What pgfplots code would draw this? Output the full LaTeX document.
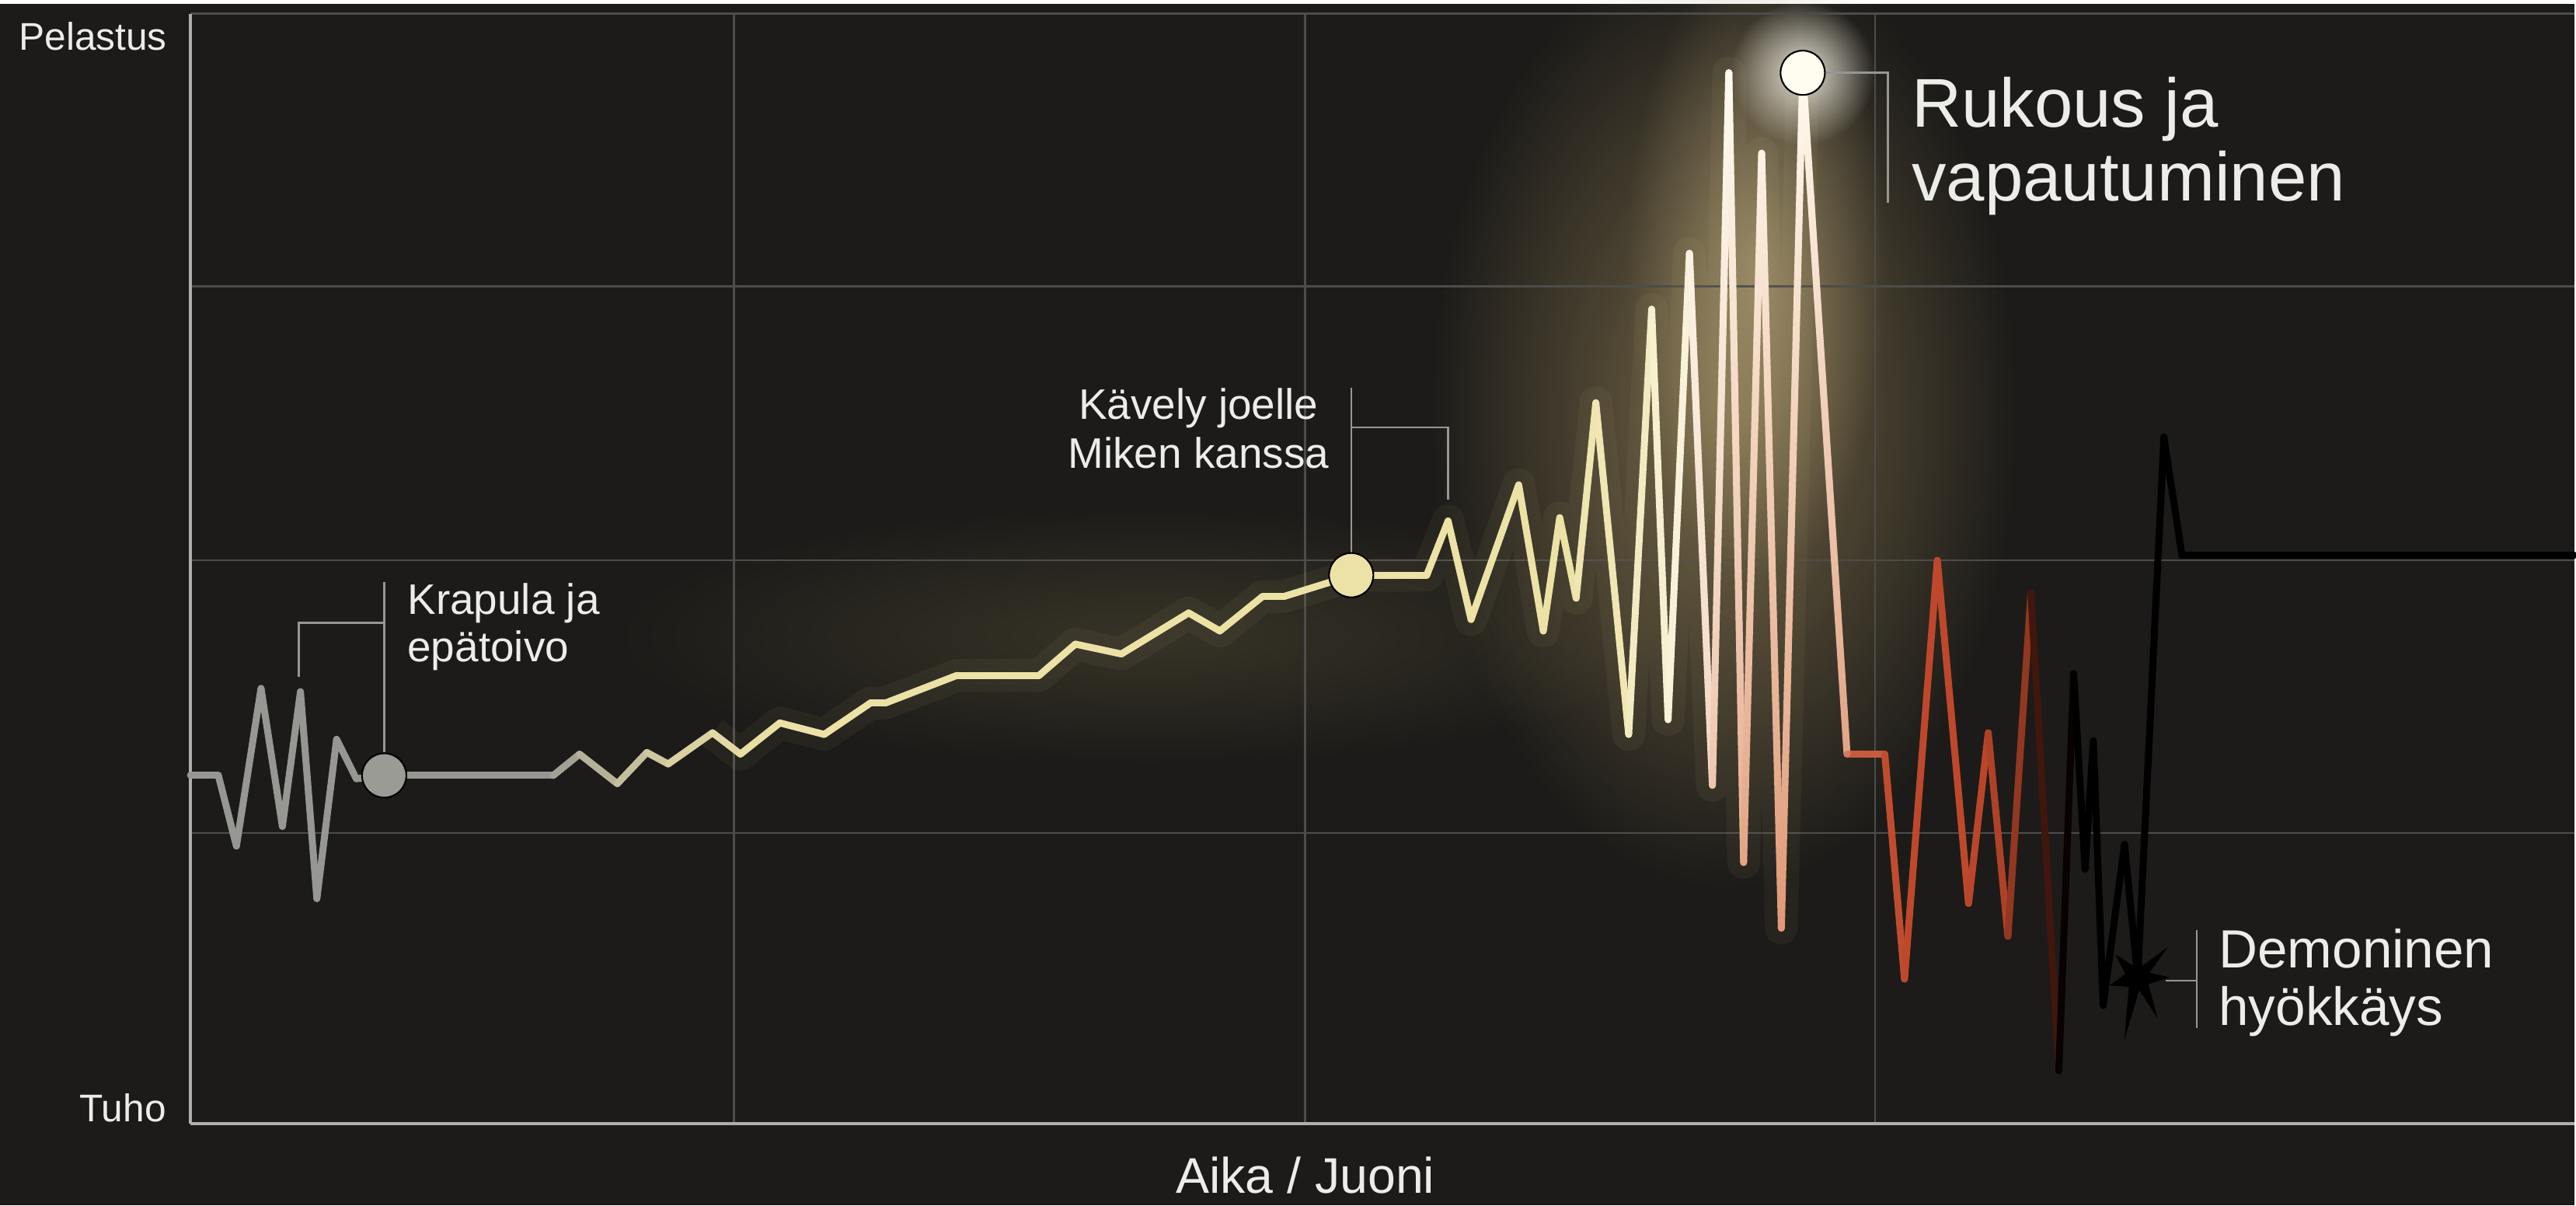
\documentclass[border=0pt]{standalone}
\usepackage{fontspec}
\setmainfont{Liberation Sans}
\usepackage{pgfplots}
\pgfplotsset{compat=1.18}
\usepackage{pgfplotstable}
\usetikzlibrary{fadings}

\definecolor{bg}{RGB}{28,27,25}
\definecolor{gridc}{RGB}{76,76,74}
\definecolor{axisc}{RGB}{175,175,172}
\definecolor{leader}{RGB}{150,150,147}
\definecolor{txt}{RGB}{236,236,232}
\definecolor{dotgray}{RGB}{155,155,150}
\definecolor{dotyellow}{RGB}{236,226,166}
\definecolor{dotwhite}{RGB}{255,252,240}
\definecolor{glowA}{RGB}{150,130,88}
\definecolor{glowB}{RGB}{215,195,145}
\definecolor{glowC}{RGB}{105,96,64}
\definecolor{glowline}{RGB}{235,220,155}

\tikzfading[name=softglow, inner color=transparent!0, outer color=transparent!100]

% x: time (px-like units), y: level, c: colour index along the story
\pgfplotstableread{
x y c
116 212 0
133 212 0
144 169 0
159 265 0
172 181 0
183 263 0
193 137 0
205 234 0
217 210 0
234 212 0
337 212 0
353 225 0.3
376 207 0.45
394 226 0.6
407 219 0.7
434 238 0.85
451 225 0.92
475 244 1
502 237 1
530 256 1
539 256 1
583 273 1
633 273 1
655 292 1
683 286 1
724 311 1
743 300 1
769 321 1
782 321 1
811 330 1
823 334 1
869 334 1
882 367 1
896 307 1
925 389 1
940 300 1
950 369 1
960 320 1
972 439 1.3
992 237 1.1
1006 496 1.7
1016 246 1.5
1029 530 2
1043 206 2.8
1053 640 2.4
1062 159 3.2
1073 591 2.6
1085 119 3.3
1098 640 2.6
1125 225 3.6
1148 225 3.9
1160 88 4
1180 343 4
1199 134 4
1211 238 4.1
1223 114 4.2
1237 323 4.6
1254 32 5.8
1263 274 6
1270 155 6
1275 233 6
1281 72 6
1294 170 6
1302 89 6
1318 418 6
1329 346 6
1568 346 6
}\storyline

\pgfdeclareplotmark{burst}{%
  \pgfpathmoveto{\pgfpointpolar{0}{6\pgfplotmarksize}}%
  \pgfpathlineto{\pgfpointpolar{22}{2.4\pgfplotmarksize}}%
  \pgfpathlineto{\pgfpointpolar{45}{8\pgfplotmarksize}}%
  \pgfpathlineto{\pgfpointpolar{67}{2.4\pgfplotmarksize}}%
  \pgfpathlineto{\pgfpointpolar{90}{6.5\pgfplotmarksize}}%
  \pgfpathlineto{\pgfpointpolar{112}{2.4\pgfplotmarksize}}%
  \pgfpathlineto{\pgfpointpolar{134}{6\pgfplotmarksize}}%
  \pgfpathlineto{\pgfpointpolar{165}{2.4\pgfplotmarksize}}%
  \pgfpathlineto{\pgfpointpolar{196}{5.5\pgfplotmarksize}}%
  \pgfpathlineto{\pgfpointpolar{227}{2.4\pgfplotmarksize}}%
  \pgfpathlineto{\pgfpointpolar{258}{12\pgfplotmarksize}}%
  \pgfpathlineto{\pgfpointpolar{277}{2.4\pgfplotmarksize}}%
  \pgfpathlineto{\pgfpointpolar{296}{8.5\pgfplotmarksize}}%
  \pgfpathlineto{\pgfpointpolar{328}{2.4\pgfplotmarksize}}%
  \pgfpathclose
  \pgfusepathqfill
}

\begin{document}
\begin{tikzpicture}
% page background and soft glows, in picture pixel units (y downwards)
\begin{scope}[xshift=-46.4pt, yshift=272.8pt, x=0.4pt, y=-0.4pt]
  \path[use as bounding box, fill=bg] (0,0) rectangle (1568,732);
  \fill[glowC, path fading=softglow, fill opacity=0.35] (700,385) ellipse (330 and 80);
  \fill[glowA, path fading=softglow, fill opacity=0.7] (1050,250) ellipse (180 and 290);
  \fill[glowB, path fading=softglow, fill opacity=0.5] (1070,160) ellipse (80 and 190);
  \fill[dotwhite, path fading=softglow, fill opacity=0.85] (1098,42) ellipse (44 and 44);
\end{scope}

\begin{axis}[
  at={(0,0)}, anchor=south west,
  scale only axis, width=580.8pt, height=270.4pt,
  xmin=116, xmax=1568, ymin=0, ymax=676,
  clip=false,
  axis x line*=bottom, axis y line*=left,
  axis line style={draw=axisc, line width=0.8pt},
  xtick={447,795,1142}, ytick={177,343,510,676},
  xticklabels={}, yticklabels={},
  tick style={draw=none},
  grid=major,
  grid style={draw=gridc, line width=0.5pt},
  colormap={story}{rgb255(0cm)=(150,150,146) rgb255(1cm)=(236,226,166)
    rgb255(2cm)=(252,248,236) rgb255(3cm)=(222,148,112) rgb255(4cm)=(190,72,44)
    rgb255(5cm)=(80,28,16) rgb255(6cm)=(0,0,0)},
  point meta min=0, point meta max=6,
]
% faint halo along the bright part
\addplot[draw=glowline, line width=8pt, opacity=0.05, line join=round,
  restrict x to domain=420:1110] table[x=x, y=y] {\storyline};
% the story line
\addplot[mesh, point meta=\thisrow{c}, line width=1.7pt, line cap=round]
  table[x=x, y=y] {\storyline};
% white tops of the climax peaks
\addplot[draw=dotwhite, line width=1.7pt, line join=round, line cap=round,
  path fading=south, restrict x to domain=1025:1130] table[x=x, y=y] {\storyline};

% events
\addplot[only marks, mark=*, mark size=5.4pt, mark options={fill=dotgray, draw=none}]
  coordinates {(234,212)};
\addplot[only marks, mark=*, mark size=5.4pt, mark options={fill=dotyellow, draw=none}]
  coordinates {(823,334)};
\addplot[only marks, mark=*, mark size=5.4pt, mark options={fill=dotwhite, draw=none}]
  coordinates {(1098,640)};
\addplot[only marks, mark=burst, mark size=1.3pt, mark options={fill=black, draw=none}]
  coordinates {(1302,89)};

% leaders
\draw[leader, line width=0.5pt] (axis cs:234,330) -- (axis cs:234,226);
\draw[leader, line width=0.5pt] (axis cs:182,272) -- (axis cs:182,305) -- (axis cs:234,305);
\draw[leader, line width=0.5pt] (axis cs:823,448) -- (axis cs:823,347);
\draw[leader, line width=0.5pt] (axis cs:823,424) -- (axis cs:882,424) -- (axis cs:882,380);
\draw[leader, line width=0.5pt] (axis cs:1112,640) -- (axis cs:1150,640) -- (axis cs:1150,561);
\draw[leader, line width=0.5pt] (axis cs:1319,87) -- (axis cs:1338,87);
\draw[leader, line width=0.5pt] (axis cs:1338,118) -- (axis cs:1338,58);

% texts
\begin{scope}[every node/.style={inner sep=0pt, text=txt}]
\node[anchor=base west, font=\fontsize{9.4}{11}\selectfont] at (axis cs:11,653.6) {Pelastus};
\node[anchor=base west, font=\fontsize{9.4}{11}\selectfont] at (axis cs:48,1) {Tuho};
\node[anchor=base, font=\fontsize{12.2}{14}\selectfont] at (axis cs:795,-42.5) {Aika / Juoni};
\node[anchor=base west, font=\fontsize{10.4}{12}\selectfont] at (axis cs:247.7,310) {Krapula ja};
\node[anchor=base west, font=\fontsize{10.4}{12}\selectfont] at (axis cs:247.7,281.5) {epätoivo};
\node[anchor=base, font=\fontsize{10.4}{12}\selectfont] at (axis cs:730,429) {Kävely joelle};
\node[anchor=base, font=\fontsize{10.4}{12}\selectfont] at (axis cs:730,399) {Miken kanssa};
\node[anchor=base west, font=\fontsize{16.8}{19}\selectfont] at (axis cs:1164,607) {Rukous ja};
\node[anchor=base west, font=\fontsize{16.8}{19}\selectfont] at (axis cs:1164,562) {vapautuminen};
\node[anchor=base west, font=\fontsize{13.1}{15}\selectfont] at (axis cs:1351,95) {Demoninen};
\node[anchor=base west, font=\fontsize{13.1}{15}\selectfont] at (axis cs:1351,60) {hyökkäys};
\end{scope}
\end{axis}
\end{tikzpicture}
\end{document}
